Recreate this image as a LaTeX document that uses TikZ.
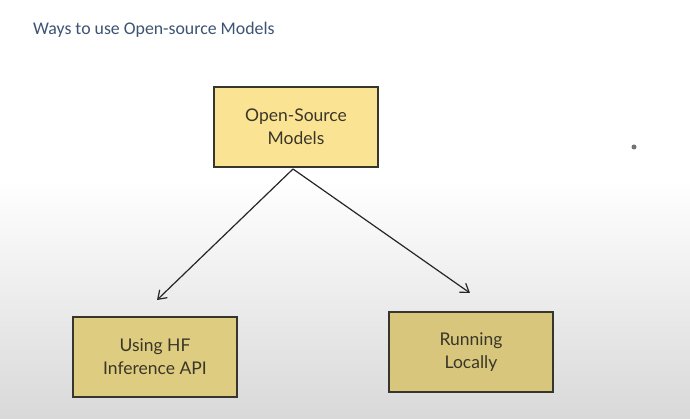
\documentclass[tikz,border=0pt]{standalone}
\usepackage{fontspec}
\setmainfont{Lato}
\newfontfamily\titlefont{Carlito}
\usetikzlibrary{arrows.meta}
\definecolor{titleblue}{HTML}{3D5373}
\definecolor{topfill}{HTML}{FAE493}
\definecolor{lowfill}{HTML}{DECC80}
\definecolor{edgecol}{HTML}{36352E}
\definecolor{txtcol}{HTML}{3A3628}
\begin{document}
\begin{tikzpicture}[x=1pt,y=-1pt,
  box/.style={draw=edgecol,line width=1.2pt,minimum width=164pt,minimum height=80pt,inner sep=0pt,
    align=center,font=\fontsize{17.5}{23}\selectfont,text=txtcol},
  conn/.style={draw=black!85,line width=1.2pt,-{Straight Barb[length=8pt,width=11pt]}}]
\useasboundingbox (0,0) rectangle (690,419);
\fill[white] (0,0) rectangle (690,180);
\shade[top color=white,bottom color=black!15] (0,180) rectangle (690,419);
\node[anchor=west,text=titleblue,font=\titlefont\fontsize{17.8}{20}\selectfont,inner sep=0pt] (title) at (33,30) {Ways to use Open-source Models};
\node[box,fill=topfill] (top) at (296,127) {Open-Source\\Models};
\node[box,fill=lowfill] (hf) at (155,357) {Using HF\\Inference API};
\node[box,fill=lowfill!97!black] (loc) at (471,352) {Running\\Locally};
\coordinate (s) at (293,169);
\coordinate (e1) at (157,300);
\coordinate (e2) at (470,293);
\draw[conn] (s) -- (e1);
\draw[conn] (s) -- (e2);
\fill[black!55] (634,147) circle (2.5pt);
\end{tikzpicture}
\end{document}
